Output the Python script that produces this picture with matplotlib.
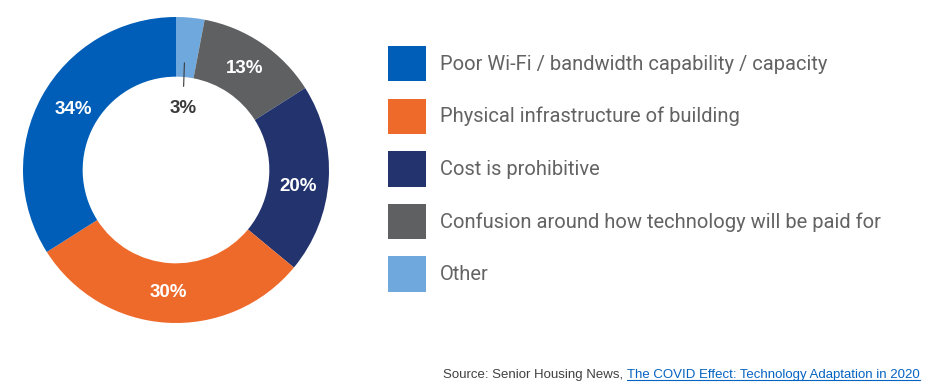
import matplotlib
matplotlib.use("Agg")
import matplotlib.pyplot as plt
from matplotlib.patches import Patch
from matplotlib.lines import Line2D

# data (clockwise from 12 o'clock)
labels = ["Other", "Confusion around how technology will be paid for",
          "Cost is prohibitive", "Physical infrastructure of building",
          "Poor Wi-Fi / bandwidth capability / capacity"]
values = [3, 13, 20, 30, 34]
colors = ["#6FA8DC", "#5F6062", "#22336E", "#EE6A2B", "#005EB8"]
legend_order = [4, 3, 2, 1, 0]

fig = plt.figure(figsize=(9.3, 3.88), dpi=100)

# donut, centre ~ (176, 170) px, radius ~153 px
cx, cy, r = 176, 170, 153
ax = fig.add_axes([(cx - r) / 930, (388 - cy - r) / 388, 2 * r / 930, 2 * r / 388])
wedges, texts, autotexts = ax.pie(
    values, colors=colors, startangle=90, counterclock=False,
    wedgeprops=dict(width=0.39, edgecolor="none"),
    autopct=lambda p: f"{p:.0f}%" if p > 5 else "", pctdistance=0.8,
    textprops=dict(color="white", fontsize=13.5, fontweight="bold",
                   family="Liberation Sans"))
ax.set_xlim(-1, 1)
ax.set_ylim(-1, 1)
ax.set_aspect("auto")
ax.axis("off")

# labels sit a little off the slice centres in the original
x, y = autotexts[2].get_position()
autotexts[2].set_position((x, y - 0.06))
x, y = autotexts[4].get_position()
autotexts[4].set_position((x + 0.03, y + 0.01))

# small slice label pulled into the hole
ax.annotate(f"{values[0]}%", xy=(0.055, 0.70), xytext=(0.045, 0.40),
            ha="center", va="center", fontsize=13.5, fontweight="bold",
            color="#3a3a3a", family="Liberation Sans",
            arrowprops=dict(arrowstyle="-", color="#3a3a3a", lw=0.8,
                            shrinkA=8, shrinkB=0))

handles = [Patch(facecolor=colors[i], edgecolor="none") for i in legend_order]
fig.legend(handles, [labels[i] for i in legend_order],
           loc="upper left", bbox_to_anchor=(388 / 930, 1 - 46 / 388),
           frameon=False, borderpad=0, borderaxespad=0,
           handlelength=1.87, handleheight=2.33, handletextpad=0.72,
           labelspacing=0.85,
           prop=dict(family="Roboto", size=14.5),
           labelcolor="#636363")

# source line
t1 = fig.text(443 / 930, 1 - 375 / 388, "Source: Senior Housing News, ",
              fontsize=9.5, color="#404040", family="Liberation Sans",
              va="center")
fig.canvas.draw()
bb = t1.get_window_extent()
x2 = bb.x1 / 930
t2 = fig.text(x2, 1 - 375 / 388,
              "The COVID Effect: Technology Adaptation in 2020",
              fontsize=9.5, color="#0563C1", family="Liberation Sans",
              va="center")
fig.canvas.draw()
bb2 = t2.get_window_extent()
fig.add_artist(Line2D([bb2.x0 / 930, bb2.x1 / 930],
                      [(bb2.y0 + 1) / 388, (bb2.y0 + 1) / 388],
                      color="#0563C1", lw=0.8))

fig.savefig("out.png", dpi=100)
